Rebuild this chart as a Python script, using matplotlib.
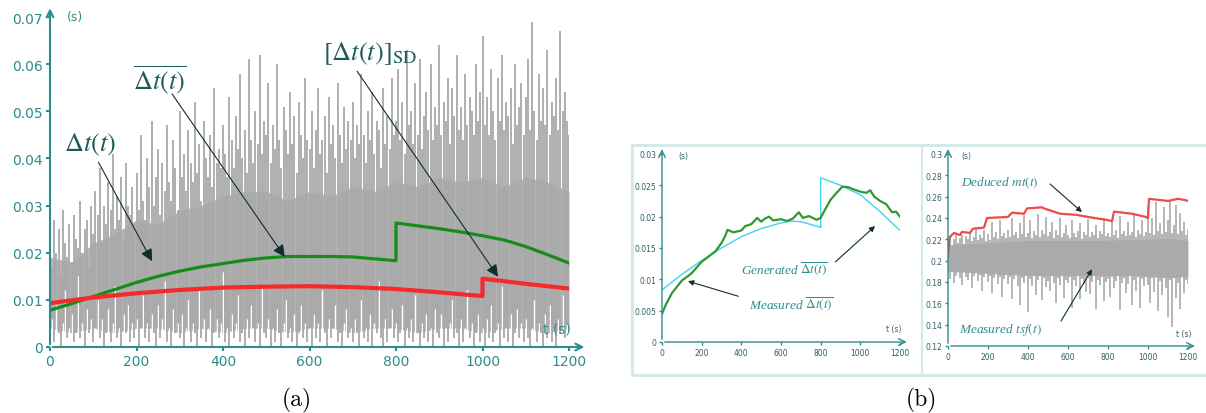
import numpy as np
import matplotlib.pyplot as plt
from matplotlib.patches import Rectangle

plt.rcParams['mathtext.fontset'] = 'stix'

'''
======================= data =======================
'''
# (a) measured delay dt(t), one spike every 5 s, values in ms
T_A = np.arange(0, 1201, 5)
HI_A = [24, 17, 27, 20, 25, 15, 29, 22, 19, 26, 18, 28, 23, 21, 31, 20, 25, 27, 17, 30,
        24, 33, 28, 38, 22, 30, 26, 35, 29, 41, 25, 32, 27, 36, 23, 39, 30, 28, 34, 26,
        37, 29, 45, 31, 27, 40, 34, 48, 30, 36, 42, 28, 39, 33, 47, 35, 31, 44, 38, 29,
        50, 36, 41, 33, 46, 39, 35, 52, 37, 43, 31, 48, 40, 36, 45, 34, 55, 39, 42, 38,
        47, 41, 36, 53, 44, 38, 49, 42, 58, 40, 46, 37, 61, 44, 39, 50, 43, 62, 41, 48,
        45, 56, 39, 47, 42, 60, 44, 38, 51, 46, 41, 54, 43, 49, 37, 52, 45, 40, 57, 44,
        42, 50, 38, 46, 55, 41, 44, 49, 37, 53, 43, 47, 40, 56, 45, 39, 51, 42, 48, 44,
        52, 40, 47, 43, 58, 45, 39, 50, 44, 54, 41, 48, 46, 38, 55, 43, 49, 42, 57, 45,
        48, 59, 44, 52, 41, 63, 47, 50, 43, 56, 45, 61, 42, 49, 54, 46, 60, 44, 51, 47,
        64, 45, 52, 48, 57, 43, 55, 49, 62, 46, 51, 44, 58, 47, 53, 50, 45, 60, 48, 54,
        66, 47, 53, 45, 59, 50, 44, 57, 48, 62, 46, 52, 49, 55, 43, 60, 47, 51, 56, 45,
        53, 61, 46, 69, 50, 44, 58, 48, 55, 47, 63, 45, 52, 49, 57, 46, 67, 50, 54, 48,
        45]
LO_A = [2, 6, 1, 9, 3, 0, 5, 12, 2, 4, 7, 1, 3, 15, 2, 5, 0, 8, 3, 6,
        1, 4, 10, 2, 6, 0, 3, 8, 1, 5, 13, 2, 4, 0, 7, 3, 9, 1, 5, 2,
        6, 0, 4, 11, 2, 5, 1, 7, 3, 0, 9, 2, 6, 14, 1, 4, 0, 8, 3, 5,
        2, 7, 0, 4, 10, 1, 5, 3, 0, 12, 2, 6, 1, 4, 8, 0, 3, 6, 2, 5,
        16, 1, 4, 0, 7, 2, 5, 11, 1, 3, 0, 6, 2, 9, 4, 1, 5, 0, 13, 3,
        2, 6, 0, 4, 1, 8, 3, 0, 5, 10, 2, 4, 1, 7, 0, 3, 9, 2, 5, 1,
        4, 0, 7, 2, 5, 1, 12, 3, 0, 6, 2, 4, 9, 1, 3, 0, 5, 8, 2, 4,
        1, 6, 3, 0, 10, 2, 4, 1, 7, 0, 5, 3, 14, 2, 0, 6, 1, 4, 8, 2,
        5, 1, 3, 9, 0, 4, 2, 6, 1, 11, 3, 0, 5, 2, 7, 1, 4, 0, 8, 3,
        2, 7, 0, 4, 1, 5, 10, 2, 3, 0, 6, 1, 4, 12, 2, 5, 0, 3, 7, 1,
        4, 0, 6, 2, 9, 1, 3, 5, 0, 13, 2, 4, 1, 7, 0, 3, 8, 2, 5, 1,
        6, 2, 0, 4, 10, 1, 5, 3, 0, 7, 2, 9, 1, 4, 0, 6, 3, 11, 2, 5,
        3]
# dense core of the dt(t) trace, every 50 s, ms
CORE_T_A = [0, 50, 100, 150, 200, 250, 300, 350, 400, 450, 500, 550, 600, 650, 700, 750,
            800, 850, 900, 950, 1000, 1050, 1100, 1150, 1200]
CORE_HI_A = [19, 18, 22, 24, 27, 26, 29, 30, 32, 33, 33, 31, 33, 32, 34, 33,
             35, 34, 36, 35, 36, 34, 36, 35, 33]
CORE_LO_A = [4, 3, 4, 3, 4, 4, 3, 4, 3, 4, 4, 3, 4, 4, 3, 4,
             4, 3, 4, 4, 3, 4, 4, 3, 4]

# (a) mean curve and SD curve
MEAN_T = [0, 50, 100, 150, 200, 250, 300, 350, 400, 450, 500, 550, 600, 650, 700, 750, 800,
          800, 850, 900, 950, 1000, 1050, 1100, 1150, 1200]
MEAN_V = [0.0078, 0.0092, 0.0107, 0.0122, 0.0137, 0.0150, 0.0161, 0.0170, 0.0177, 0.0184,
          0.0189, 0.0192, 0.0192, 0.0192, 0.0191, 0.0187, 0.0183,
          0.0263, 0.0257, 0.0251, 0.0244, 0.0236, 0.0227, 0.0213, 0.0196, 0.0178]
SD_T = [0, 100, 200, 300, 400, 500, 600, 700, 800, 900, 1000, 1000, 1100, 1200]
SD_V = [0.0093, 0.0105, 0.0114, 0.0121, 0.0126, 0.0128, 0.0129, 0.0127, 0.0123, 0.0116,
        0.0108, 0.0145, 0.0134, 0.0124]

# (b) left: generated and measured mean delay
GEN_T = [0, 100, 200, 300, 400, 500, 600, 650, 700, 800, 800, 900, 1000, 1100, 1200]
GEN_V = [0.0083, 0.0108, 0.0130, 0.0150, 0.0168, 0.0181, 0.0190, 0.0193, 0.0192, 0.0183,
         0.0262, 0.0250, 0.0235, 0.0208, 0.0178]
MEAS_T = [0, 20, 50, 100, 130, 150, 200, 250, 270, 300, 320, 330, 360, 400, 420, 450, 480,
          500, 520, 540, 560, 600, 630, 660, 690, 710, 740, 780, 800, 820, 850, 880, 910,
          940, 970, 1000, 1030, 1050, 1070, 1100, 1130, 1160, 1180, 1200]
MEAS_V = [0.0045, 0.0060, 0.0078, 0.0098, 0.0105, 0.0110, 0.0128, 0.0140, 0.0145, 0.0158,
          0.0170, 0.0179, 0.0175, 0.0178, 0.0185, 0.0188, 0.0198, 0.0192, 0.0197, 0.0200,
          0.0194, 0.0196, 0.0193, 0.0197, 0.0207, 0.0198, 0.0201, 0.0195, 0.0198, 0.0210,
          0.0227, 0.0238, 0.0248, 0.0247, 0.0243, 0.0240, 0.0238, 0.0242, 0.0232, 0.0225,
          0.0220, 0.0207, 0.0208, 0.0200]

# (b) right: measured tsf(t), one spike every 10 s, values x1000
T_B = np.arange(0, 1201, 10)
HI_B = [218, 222, 215, 220, 226, 217, 221, 224, 216, 223,
        220, 227, 218, 222, 231, 219, 224, 221, 229, 218,
        225, 219, 236, 222, 227, 220, 238, 223, 226, 221,
        229, 222, 240, 224, 227, 221, 235, 225, 243, 222,
        226, 238, 221, 228, 224, 244, 222, 229, 225, 241,
        223, 227, 236, 221, 229, 224, 240, 222, 226, 233,
        224, 221, 238, 226, 222, 228, 235, 220, 227, 224,
        239, 222, 227, 224, 233, 221, 228, 225, 240, 223,
        226, 222, 237, 224, 229, 221, 242, 225, 228, 223,
        236, 224, 227, 245, 222, 229, 225, 238, 223, 227,
        251, 226, 240, 224, 255, 228, 235, 225, 250, 227,
        238, 256, 226, 233, 252, 225, 245, 228, 236, 224,
        230]
LO_B = [188, 183, 191, 179, 186, 190, 184, 177, 189, 185,
        182, 188, 174, 186, 190, 181, 187, 172, 185, 189,
        180, 186, 170, 184, 189, 178, 185, 166, 183, 187,
        178, 185, 164, 183, 188, 176, 158, 184, 179, 186,
        152, 183, 176, 187, 168, 182, 186, 163, 184, 175,
        181, 172, 186, 179, 160, 184, 177, 187, 165, 182,
        179, 185, 156, 182, 176, 187, 164, 183, 178, 171,
        184, 169, 180, 186, 155, 182, 177, 185, 162, 180,
        183, 166, 185, 174, 181, 187, 154, 179, 184, 170,
        178, 186, 158, 182, 172, 185, 156, 183, 176, 186,
        177, 160, 184, 171, 186, 153, 181, 168, 185, 174,
        147, 182, 138, 184, 165, 179, 155, 186, 170, 182,
        178]
# dense core of the tsf(t) trace, every 100 s, x1000
CORE_T_B = [0, 100, 200, 300, 400, 500, 600, 700, 800, 900, 1000, 1100, 1200]
CORE_HI_B = [214, 216, 217, 218, 219, 219, 219, 219, 219, 220, 220, 221, 219]
CORE_LO_B = [190, 189, 188, 187, 186, 186, 186, 186, 186, 186, 185, 184, 185]

# (b) right: deduced mt(t), staircase
MT_T = [0, 8, 30, 60, 70, 110, 125, 180, 195, 300, 320, 380, 395, 470, 480, 560, 640, 700,
        800, 820, 830, 920, 990, 1000, 1005, 1100, 1150, 1180, 1200]
MT_V = [0.204, 0.222, 0.226, 0.224, 0.227, 0.226, 0.230, 0.231, 0.240, 0.241, 0.245, 0.244,
        0.249, 0.250, 0.249, 0.244, 0.243, 0.241, 0.238, 0.237, 0.246, 0.244, 0.241, 0.240,
        0.258, 0.256, 0.258, 0.257, 0.256]

X_TICKS = [0, 200, 400, 600, 800, 1000, 1200]
Y_TICKS_A = [0, 0.01, 0.02, 0.03, 0.04, 0.05, 0.06, 0.07]
Y_LABELS_A = ['0', '0.01', '0.02', '0.03', '0.04', '0.05', '0.06', '0.07']
Y_TICKS_BL = [0, 0.005, 0.01, 0.015, 0.02, 0.025, 0.03]
Y_LABELS_BL = ['0', '0.005', '0.01', '0.015', '0.02', '0.025', '0.03']
Y_TICKS_BR = [0.12, 0.14, 0.16, 0.18, 0.2, 0.22, 0.24, 0.26, 0.28, 0.3]
Y_LABELS_BR = ['0.12', '0.14', '0.16', '0.18', '0.2', '0.22', '0.24', '0.26', '0.28', '0.3']

'''
======================= helpers =======================
'''
W, H = 1206, 414
TEAL = '#2e8c8c'
DARK = '#1d5a5c'
GREY = '#b4b4b4'
SPIKE = '#a9a9a9'

fig = plt.figure(figsize=(W / 100, H / 100), dpi=100)


def axes_px(x0, y0, x1, y1):
    return fig.add_axes([x0 / W, 1 - y1 / H, (x1 - x0) / W, (y1 - y0) / H])


def style_axes(ax, yticks, ylabels, size, lw, over):
    for s in ax.spines.values():
        s.set_visible(False)
    ax.set_facecolor('none')
    ax.set_xticks(X_TICKS)
    ax.set_xticklabels([str(v) for v in X_TICKS])
    ax.set_yticks(yticks)
    ax.set_yticklabels(ylabels)
    ax.tick_params(colors=TEAL, labelcolor=TEAL, labelsize=size, length=3, width=lw, pad=2)
    # axis lines with arrow heads
    ax.annotate('', xy=(0, over), xytext=(0, 0), xycoords='axes fraction',
                arrowprops=dict(arrowstyle='->', color=TEAL, lw=lw, mutation_scale=12),
                annotation_clip=False)
    ax.annotate('', xy=(over, 0), xytext=(0, 0), xycoords='axes fraction',
                arrowprops=dict(arrowstyle='->', color=TEAL, lw=lw, mutation_scale=12),
                annotation_clip=False)


def arrow(ax, xy, xytext, scale=16):
    ax.annotate('', xy=xy, xytext=xytext,
                arrowprops=dict(arrowstyle='-|>', color='#0f2e2e', lw=0.8,
                                mutation_scale=scale, shrinkA=0, shrinkB=0))


def noisy_trace(ax, t, lo, hi, core_t, core_lo, core_hi, lw, white_dips):
    ax.fill_between(core_t, np.array(core_lo) * 1e-3, np.array(core_hi) * 1e-3,
                    color=GREY, lw=0)
    if white_dips:
        ax.vlines(t, 0, np.array(lo) * 1e-3, color='white', lw=lw * 0.7)
    ax.vlines(t, np.array(lo) * 1e-3, np.array(hi) * 1e-3, color=SPIKE, lw=lw)


'''
======================= panel (a) =======================
'''
ax = axes_px(50, 18, 569, 348)
noisy_trace(ax, T_A, LO_A, HI_A, CORE_T_A, CORE_LO_A, CORE_HI_A, 1.3, True)
ax.plot(MEAN_T, MEAN_V, color='#178c1a', lw=2.3)
ax.plot(SD_T, SD_V, color='#f52a2a', lw=3.0)
ax.set_xlim(0, 1200)
ax.set_ylim(0, 0.07)
style_axes(ax, Y_TICKS_A, Y_LABELS_A, 10, 1.5, 1.035)

ax.text(92, 0.0431, r'$\Delta t(t)$', fontsize=19, color=DARK, ha='center', va='center')
ax.text(254, 0.0568, r'$\overline{\Delta t(t)}$', fontsize=19, color=DARK,
        ha='center', va='center')
ax.text(740, 0.0625, r'$[\Delta t(t)]_{\rm SD}$', fontsize=19, color=DARK,
        ha='center', va='center')
arrow(ax, (236, 0.0182), (112, 0.0392), 18)
arrow(ax, (543, 0.0191), (282, 0.0537), 18)
arrow(ax, (1036, 0.0149), (710, 0.0585), 18)

fig.text(75 / W, 1 - 18 / H, '(s)', fontsize=9, color=TEAL, ha='center', va='center')
fig.text(557 / W, 1 - 330 / H, 't (s)', fontsize=10, color=TEAL, ha='center', va='center')
fig.text(297 / W, 1 - 400 / H, '(a)', fontsize=17, family='cmr10',
         ha='center', va='center')

'''
======================= panel (b) =======================
'''
fig.add_artist(Rectangle((632 / W, 1 - 376 / H), 600 / W, 230 / H, transform=fig.transFigure,
                         fill=False, edgecolor='#d3e8e9', lw=2))
fig.add_artist(plt.Line2D([922 / W, 922 / W], [1 - 376 / H, 1 - 146 / H],
                          transform=fig.transFigure, color='#d3e8e9', lw=1.5))

# left: mean delay
bl = axes_px(662, 155, 900, 343)
bl.plot(GEN_T, GEN_V, color='#40d4f0', lw=1.0)
bl.plot(MEAS_T, MEAS_V, color='#2f9a2f', lw=1.6)
bl.set_xlim(0, 1200)
bl.set_ylim(0, 0.03)
style_axes(bl, Y_TICKS_BL, Y_LABELS_BL, 5.5, 1.0, 1.04)
bl.tick_params(length=2, labelcolor='#2f5f66')

bl.text(620, 0.0117, r'Generated $\overline{\Delta t(t)}$', fontsize=9.5, style='italic',
        family='Liberation Serif', color=TEAL, ha='center', va='center')
bl.text(650, 0.0061, r'Measured $\overline{\Delta t(t)}$', fontsize=9.5, style='italic',
        family='Liberation Serif', color=TEAL, ha='center', va='center')
arrow(bl, (1074, 0.0185), (875, 0.0128), 8)
arrow(bl, (131, 0.0097), (385, 0.0073), 8)
fig.text(683 / W, 1 - 156 / H, '(s)', fontsize=5.5, color='#2f5f66', ha='center', va='center')
fig.text(894 / W, 1 - 330 / H, 't (s)', fontsize=5.5, color='#2f5f66', ha='center', va='center')

# right: tsf and mt
br = axes_px(948, 155, 1188, 347)
noisy_trace(br, T_B, LO_B, HI_B, CORE_T_B, CORE_LO_B, CORE_HI_B, 1.2, False)
br.plot(MT_T, MT_V, color='#f04a4a', lw=1.6)
br.set_xlim(0, 1200)
br.set_ylim(0.12, 0.3)
style_axes(br, Y_TICKS_BR, Y_LABELS_BR, 5.5, 1.0, 1.04)
br.tick_params(length=2, labelcolor='#2f5f66')

br.text(260, 0.2737, r'Deduced $mt(t)$', fontsize=9.5, style='italic',
        family='Liberation Serif', color=TEAL, ha='center', va='center')
br.text(260, 0.136, r'Measured $tsf(t)$', fontsize=9.5, style='italic',
        family='Liberation Serif', color=TEAL, ha='center', va='center')
arrow(br, (670, 0.2455), (510, 0.2719), 8)
arrow(br, (720, 0.192), (565, 0.1434), 8)
fig.text(966 / W, 1 - 156 / H, '(s)', fontsize=5.5, color='#2f5f66', ha='center', va='center')
fig.text(1184 / W, 1 - 334 / H, 't (s)', fontsize=5.5, color='#2f5f66', ha='center', va='center')

fig.text(921 / W, 1 - 400 / H, '(b)', fontsize=17, family='cmr10',
         ha='center', va='center')

fig.savefig('out.png', dpi=100)
